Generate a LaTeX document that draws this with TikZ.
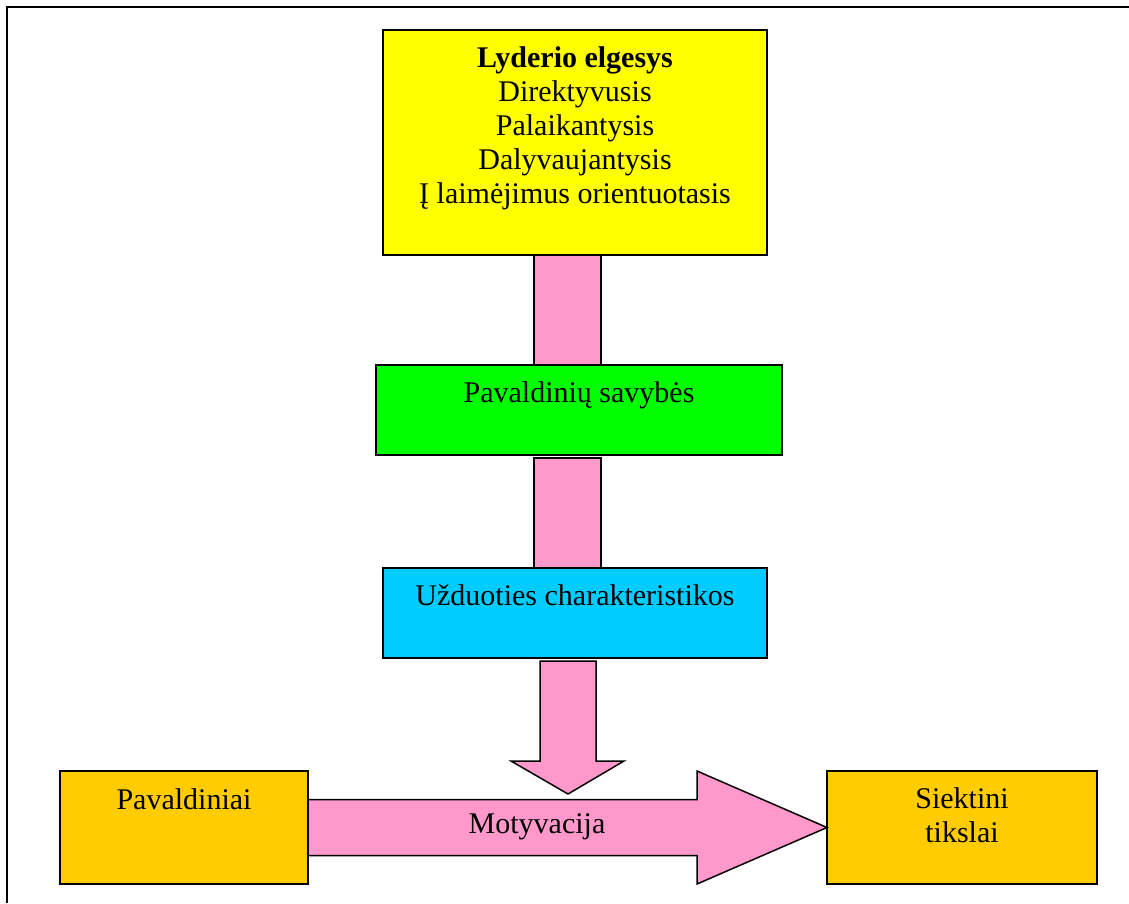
\documentclass[tikz,border=0pt]{standalone}
\usepackage{fontspec}
\setmainfont{Liberation Serif}
\usetikzlibrary{calc,positioning}
\definecolor{lyellow}{HTML}{FFFF00}
\definecolor{lgreen}{HTML}{00FF00}
\definecolor{lcyan}{HTML}{00CCFF}
\definecolor{lgold}{HTML}{FFCC00}
\definecolor{lpink}{HTML}{FF99CC}
\tikzset{
    box/.style={draw=black,line width=1.5pt,inner sep=0pt,outer sep=0pt},
    txt/.style={font=\fontsize{30}{34}\selectfont,inner sep=0pt,align=center},
    bar/.style={draw=black,line width=1.5pt,fill=lpink,line join=miter},
}

\begin{document}
\begin{tikzpicture}[x=1pt,y=-1pt]
        \useasboundingbox (0,0) rectangle (1129,903);
        \draw[line width=2pt] (7,903) -- (7,7) -- (1129,7);
        % boxes
        \node[box,fill=lyellow,minimum width=384,minimum height=225] (lyd) at (575,142.5) {};
        \node[box,fill=lgreen,minimum width=406,minimum height=90] (sav) at (579,410) {};
        \node[box,fill=lcyan,minimum width=384,minimum height=90] (uzd) at (575,613) {};
        \node[box,fill=lgold,minimum width=248,minimum height=113] (pav) at (184,827.5) {};
        \node[box,fill=lgold,minimum width=270,minimum height=113] (siek) at (962,827.5) {};
        % connectors
        \draw[bar] ([xshift=-41]lyd.south) rectangle ([xshift=22]sav.north);
        \draw[bar] ([shift={(-45,3)}]sav.south) rectangle ([xshift=26]uzd.north);
        \coordinate (tip) at (568,794);
        \draw[bar] ([shift={(-35,3)}]uzd.south) -- ++(56,0) -- ++(0,100) -- ++(28,0) -- (tip)
            -- ++(-57,-33) -- ++(29,0) -- cycle;
        \draw[bar] ([shift={(0,-28)}]pav.east) -- ([shift={(-130,-28)}]siek.west)
            -- ([shift={(-130,-56.5)}]siek.west) -- (siek.west)
            -- ([shift={(-130,56.5)}]siek.west) -- ([shift={(-130,28)}]siek.west)
            -- ([shift={(0,28)}]pav.east) -- cycle;
        % texts
        \node[txt,anchor=north] (lydtxt) at ([yshift=-16]lyd.north)
            {\textbf{Lyderio elgesys}\\Direktyvusis\\Palaikantysis\\Dalyvaujantysis\\Į laimėjimus orientuotasis};
        \node[txt,anchor=base] (savtxt) at ([yshift=-37]sav.north) {Pavaldinių savybės};
        \node[txt,anchor=base] (uzdtxt) at ([yshift=-37]uzd.north) {Užduoties charakteristikos};
        \node[txt,anchor=base] (pavtxt) at ([yshift=-38]pav.north) {Pavaldiniai};
        \node[txt,anchor=north] (siektxt) at ([yshift=-16]siek.north) {Siektini\\tikslai};
        \node[txt,anchor=base] (mot) at (537,833) {Motyvacija};
\end{tikzpicture}
\end{document}
